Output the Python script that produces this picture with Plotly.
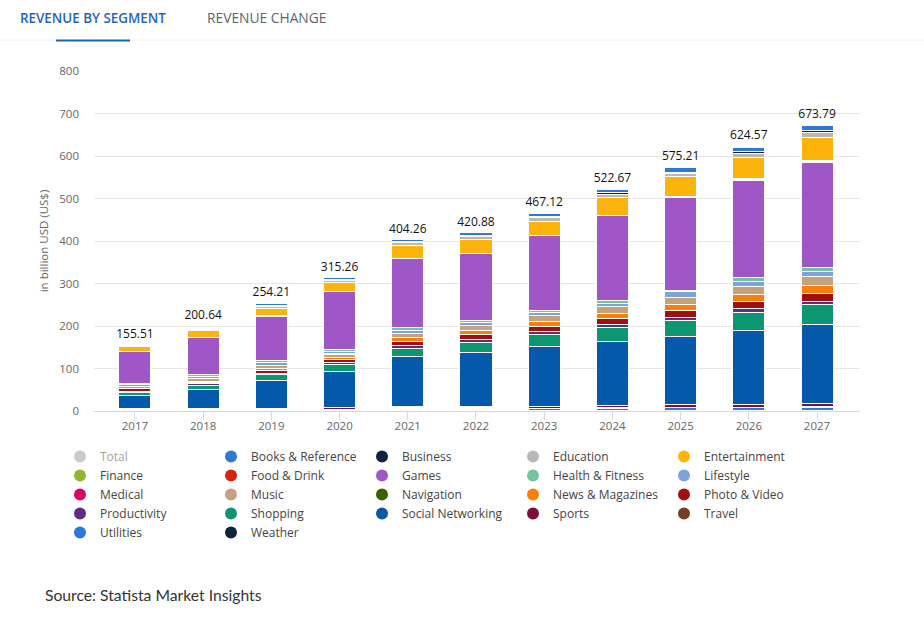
import plotly.graph_objects as go

years = ['2017', '2018', '2019', '2020', '2021', '2022', '2023', '2024', '2025', '2026', '2027']
totals = [155.51, 200.64, 254.21, 315.26, 404.26, 420.88, 467.12, 522.67, 575.21, 624.57, 673.79]

# Values, in billion USD
books = [0.3, 1, 4, 4, 5, 6, 7, 7, 10, 11, 12]
business = [0.2, 1, 2, 2, 3, 3, 3, 3, 3, 3, 4]
education = [0.3, 1, 4, 5, 7, 7, 9, 9, 8, 11, 12]
entertainment = [11, 15, 18, 21, 29, 32, 33, 41, 46, 49, 53]
finance = [0.5, 0.5, 0.5, 0.5, 0.5, 0.5, 1, 1, 1, 2, 2]
food = [0.5, 0.5, 0.5, 0.5, 0.5, 0.5, 0.5, 0.5, 0.5, 3, 3]
games = [75, 88, 104, 135, 163, 157, 174.5, 198, 220, 229, 248.5]
health = [1, 3, 6, 5, 5, 5, 6, 7, 3, 8, 8]
lifestyle = [5, 5, 6, 6, 7, 6, 7, 8, 13, 12, 12.5]
medical = [0.5, 0.5, 0.5, 0.5, 0.5, 0.5, 0.5, 0.5, 0.5, 0.5, 0.5]
music = [4, 6, 7, 7, 9.5, 11, 13.5, 16, 15.5, 18.5, 20]
navigation = [0.5, 0.5, 0.5, 0.5, 0.5, 0.5, 0.5, 0.5, 0.5, 0.5, 0.5]
news = [1, 2, 4, 5, 9, 10, 11, 12, 14, 16, 18.5]
photo = [5, 4, 6, 8, 9, 12, 11, 13.5, 17, 16, 18]
productivity = [3, 3, 4, 5, 8, 7, 7, 7.5, 7, 10, 8]
shopping = [8, 10, 13, 15, 18, 23, 29, 32, 37, 41.5, 46]
social = [31, 45, 65, 86, 118, 127, 141, 152, 160, 174, 187]
sports = [0, 0, 3, 3.5, 0, 0, 4, 4.5, 7.5, 7.5, 7.5]
travel = [0, 0, 0.5, 0.5, 0, 0, 0.5, 0.5, 1, 1, 1.5]
utilities = [0, 0, 3, 3, 0, 0, 6, 6, 6, 6, 7]
weather = [0, 0, 0.5, 0.5, 0, 0, 0.5, 1, 1.5, 1.5, 1.5]
# Years where the small bottom segments don't show, just a blank gap under the stack
bottom_gap = [5, 6, 0, 0, 11, 11, 0, 0, 0, 0, 0]

# Legend order, the stack is drawn the other way round (Weather at the bottom)
segments = [
    ('Books & Reference', books, '#2f78d4'),
    ('Business', business, '#14233c'),
    ('Education', education, '#b8b8b8'),
    ('Entertainment', entertainment, '#fcb40c'),
    ('Finance', finance, '#90b82f'),
    ('Food & Drink', food, '#d7230b'),
    ('Games', games, '#9f57c8'),
    ('Health & Fitness', health, '#74c39e'),
    ('Lifestyle', lifestyle, '#7ba3dc'),
    ('Medical', medical, '#d4085f'),
    ('Music', music, '#c4a27d'),
    ('Navigation', navigation, '#3d5f00'),
    ('News & Magazines', news, '#f78106'),
    ('Photo & Video', photo, '#a20f0f'),
    ('Productivity', productivity, '#5c2d82'),
    ('Shopping', shopping, '#0e9672'),
    ('Social Networking', social, '#0559ab'),
    ('Sports', sports, '#7c0e3a'),
    ('Travel', travel, '#743f21'),
    ('Utilities', utilities, '#2c78dc'),
    ('Weather', weather, '#14233c'),
]

W, H = 924, 637
FONT = 'Open Sans'

fig = go.Figure()

# Clear bar under the stack, holds the gap
fig.add_trace(go.Bar(
    x=years, y=bottom_gap, marker=dict(color='rgba(0,0,0,0)', line=dict(width=0)),
    showlegend=False,
))

for name, values, color in reversed(segments):
    fig.add_trace(go.Bar(
        name=name, x=years, y=values,
        marker=dict(color=color, line=dict(color='white', width=1)),
        showlegend=False,
    ))

# Total labels above the stacks, the clear marker only lifts the text a bit
fig.add_trace(go.Scatter(
    x=years, y=totals, mode='markers+text', text=[f'{t:.2f}' for t in totals],
    marker=dict(size=4, color='rgba(0,0,0,0)'),
    textposition='top center', textfont=dict(family=FONT, size=12, color='#111111'),
    showlegend=False,
))

# Round legend markers, bars would give squares
fig.add_trace(go.Scatter(
    x=[None], y=[None], mode='markers', name='Total', visible='legendonly',
    marker=dict(color='#999999', size=12), legendrank=1,
))
for i, (name, values, color) in enumerate(segments):
    fig.add_trace(go.Scatter(
        x=[None], y=[None], mode='markers', name=name,
        marker=dict(color=color, size=12), legendrank=i + 2,
    ))

fig.update_layout(
    width=W, height=H,
    template='plotly_white',
    barmode='stack',
    bargap=0.53,
    margin=dict(l=94, r=64, t=70.5, b=225.5, autoexpand=False),
    font=dict(family=FONT, color='#555555'),
    legend=dict(
        orientation='h', x=60 / W, xref='container', y=1 - 442 / H, yref='container',
        xanchor='left', yanchor='top', traceorder='normal',
        entrywidth=106, entrywidthmode='pixels', itemwidth=30,
        font=dict(family=FONT, size=12, color='#444444'),
        bgcolor='rgba(0,0,0,0)',
    ),
    annotations=[
        dict(text='REVENUE BY SEGMENT', x=18, y=17, font=dict(size=13.4, weight=600, color='#1f66b8')),
        dict(text='REVENUE CHANGE', x=205, y=17, font=dict(size=13.8, color='#5b6470')),
        dict(text='Source: Statista Market Insights', x=43, y=596,
             font=dict(family='Lato', size=15.7, color='#333333')),
    ],
    shapes=[
        dict(type='line', xref='paper', yref='paper', x0=-94 / 766, x1=830 / 766,
             y0=1 + 31 / 341, y1=1 + 31 / 341, line=dict(color='#f2f2f2', width=1)),
        dict(type='line', xref='paper', yref='paper', x0=-38 / 766, x1=36 / 766,
             y0=1 + 30.5 / 341, y1=1 + 30.5 / 341, line=dict(color='#1f66a8', width=2)),
    ],
)

# The annotations above are placed in page pixels
for ann in fig.layout.annotations:
    ann.update(xref='paper', yref='paper', xanchor='left', yanchor='middle', showarrow=False,
               x=(ann.x - 94) / 766, y=1 - (ann.y - 70.5) / 341)

fig.update_xaxes(
    type='category', range=[-0.6, 10.63],
    showgrid=False, showline=True, linecolor='#d8d8e0', linewidth=1,
    ticks='outside', ticklen=8, tickwidth=1, tickcolor='#d8d8e0', ticklabelstandoff=-4,
    tickfont=dict(family=FONT, size=11.5, color='#666666'),
)
fig.update_yaxes(
    range=[0, 800], dtick=100, showgrid=True, gridcolor='#e6e6e6', gridwidth=1,
    zeroline=False, ticks='', ticklabelstandoff=14,
    tickfont=dict(family=FONT, size=11.5, color='#666666'),
    title=dict(text='in billion USD (US$)', font=dict(family=FONT, size=11.5, color='#666666'), standoff=8),
)

# Drop the browser's default body margin so the page lines up with the window
fig.write_html("out.html", config={'displayModeBar': False},
               post_script="document.body.style.margin = '0';")
